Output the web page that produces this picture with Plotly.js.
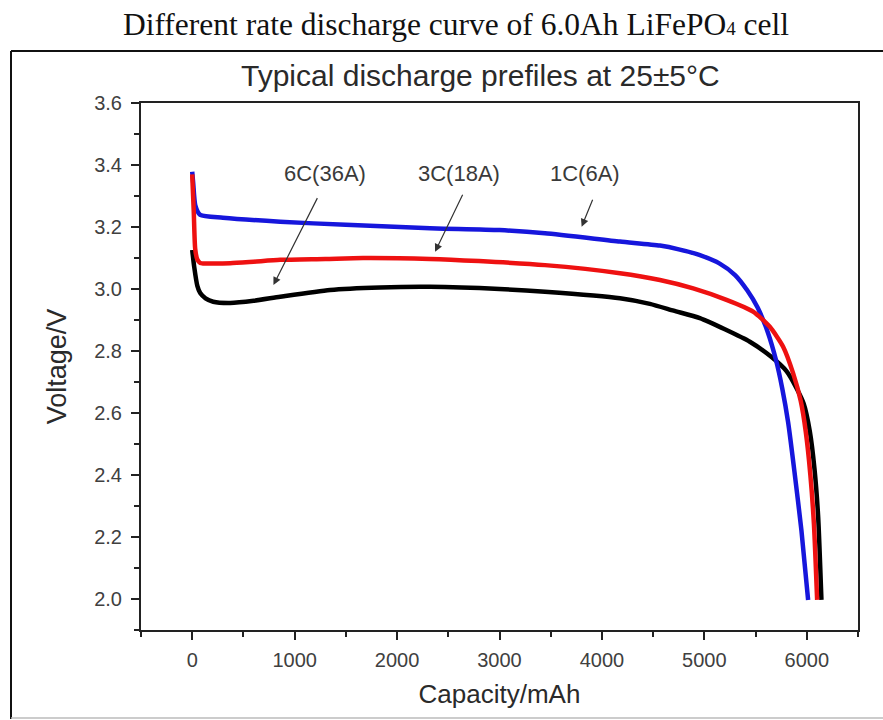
<!DOCTYPE html>
<html>
<head>
<meta charset="utf-8">
<script src="https://cdn.plot.ly/plotly-3.0.1.min.js"></script>
<style>
html,body{margin:0;padding:0;background:#fff;}
#chart{width:883px;height:720px;}
</style>
</head>
<body>
<div id="chart"></div>
<script>
// ---- data (capacity in mAh, voltage in V) ----
const seriesNames = ['6C(36A)', '1C(6A)', '3C(18A)'];

const cap6C = [0, 20, 50, 78, 130, 205, 371, 600, 859, 1346, 1834, 2322, 3000, 3444, 4176, 4468, 4700, 4956, 5200, 5444, 5650, 5802, 5900, 5970, 6030, 6075, 6111, 6143];
const volt6C = [3.126, 3.07, 3.01, 2.987, 2.97, 2.959, 2.955, 2.962, 2.975, 2.997, 3.005, 3.007, 3.0, 2.991, 2.97, 2.952, 2.93, 2.906, 2.87, 2.83, 2.782, 2.735, 2.68, 2.63, 2.54, 2.42, 2.265, 1.997];

const cap1C = [0, 10, 30, 78, 300, 859, 1500, 2322, 3000, 3444, 4176, 4566, 4750, 4950, 5150, 5300, 5420, 5520, 5620, 5700, 5760, 5818, 5880, 5948, 6013];
const volt1C = [3.378, 3.34, 3.27, 3.239, 3.23, 3.217, 3.207, 3.196, 3.19, 3.18, 3.153, 3.14, 3.128, 3.11, 3.082, 3.045, 2.995, 2.94, 2.86, 2.77, 2.68, 2.57, 2.41, 2.22, 1.997];

const cap3C = [0, 15, 29, 50, 78, 200, 371, 600, 859, 1300, 1668, 2322, 2800, 3444, 4176, 4566, 4891, 5216, 5476, 5639, 5769, 5867, 5940, 5990, 6035, 6070, 6101];
const volt3C = [3.37, 3.25, 3.13, 3.095, 3.084, 3.082, 3.083, 3.088, 3.094, 3.097, 3.10, 3.097, 3.09, 3.077, 3.051, 3.029, 3.002, 2.965, 2.927, 2.878, 2.814, 2.728, 2.64, 2.54, 2.40, 2.24, 1.997];

const xTickVals = [0, 1000, 2000, 3000, 4000, 5000, 6000];
const yTickVals = [2.0, 2.2, 2.4, 2.6, 2.8, 3.0, 3.2, 3.4, 3.6];

// label text, label anchor (capacity, voltage), arrow tail and tip
const labelText = ['6C(36A)', '3C(18A)', '1C(6A)'];
const labelCap = [1298, 2605, 3834];
const labelVolt = [3.371, 3.371, 3.371];
const arrowTailCap = [1229, 2647, 3915];
const arrowTailVolt = [3.298, 3.309, 3.293];
const arrowTipCap = [793, 2371, 3802];
const arrowTipVolt = [3.013, 3.12, 3.201];

const colors = ['#000000', '#1616dc', '#ee1111'];

const traces = [
  {x: cap6C, y: volt6C, name: seriesNames[0], mode: 'lines', line: {color: colors[0], width: 4.5, shape: 'spline', smoothing: 0.6}},
  {x: cap1C, y: volt1C, name: seriesNames[1], mode: 'lines', line: {color: colors[1], width: 4.5, shape: 'spline', smoothing: 0.6}},
  {x: cap3C, y: volt3C, name: seriesNames[2], mode: 'lines', line: {color: colors[2], width: 4.5, shape: 'spline', smoothing: 0.6}}
];

const W = 883, H = 720;
const mL = 141, mR = 25, mT = 103, mB = 90;
const pw = W - mL - mR, ph = H - mT - mB;
const px = v => (v - mL) / pw;          // pixel x -> paper
const py = v => (H - mB - v) / ph;      // pixel y -> paper

const sans = 'Liberation Sans, Arial, sans-serif';
const annotations = [];
for (let i = 0; i < labelText.length; i++) {
  annotations.push({
    x: labelCap[i], y: labelVolt[i], xref: 'x', yref: 'y',
    text: labelText[i], showarrow: false,
    font: {family: sans, size: 22, color: '#3a3a3a'},
    xanchor: 'center', yanchor: 'middle'
  });
  annotations.push({
    x: arrowTipCap[i], y: arrowTipVolt[i], xref: 'x', yref: 'y',
    ax: arrowTailCap[i], ay: arrowTailVolt[i], axref: 'x', ayref: 'y',
    text: '', showarrow: true, arrowhead: 2, arrowsize: 1.3, arrowwidth: 1.2, arrowcolor: '#333'
  });
}
annotations.push({
  x: px(480), y: py(76), xref: 'paper', yref: 'paper',
  text: 'Typical discharge prefiles at 25±5°C', showarrow: false,
  font: {family: sans, size: 30, color: '#2a2a2a'},
  xanchor: 'center', yanchor: 'middle'
});

const axisCommon = {
  showline: true, linecolor: '#222', linewidth: 2, mirror: true,
  ticks: 'outside', ticklen: 8, tickwidth: 2, tickcolor: '#222',
  showgrid: false, zeroline: false,
  tickfont: {family: sans, size: 20, color: '#404040'}
};

const frameLine = {color: '#111', width: 2};
const layout = {
  width: W, height: H,
  margin: {l: mL, r: mR, t: mT, b: mB},
  paper_bgcolor: '#ffffff', plot_bgcolor: '#ffffff',
  showlegend: false,
  title: {
    text: 'Different rate discharge curve of 6.0Ah LiFePO<span style="font-size:19px">4</span> cell',
    font: {family: 'Liberation Serif, Times New Roman, serif', size: 31.5, color: '#111'},
    x: 456 / W, xanchor: 'center', xref: 'container',
    y: 1 - 24 / H, yanchor: 'middle', yref: 'container'
  },
  xaxis: Object.assign({}, axisCommon, {
    range: [-500, 6500], tickvals: xTickVals, tickformat: 'd', ticklabelstandoff: 3,
    minor: {dtick: 500, tick0: 0, ticks: 'outside', ticklen: 5, tickwidth: 2, tickcolor: '#222', showgrid: false},
    title: {text: 'Capacity/mAh', standoff: 15, font: {family: sans, size: 26, color: '#2a2a2a'}}
  }),
  yaxis: Object.assign({}, axisCommon, {
    range: [1.9, 3.6], tickvals: yTickVals, tickformat: '.1f', ticklabelstandoff: 5,
    minor: {dtick: 0.1, tick0: 2.0, ticks: 'outside', ticklen: 5, tickwidth: 2, tickcolor: '#222', showgrid: false},
    title: {text: 'Voltage/V', standoff: 20, font: {family: sans, size: 27, color: '#2a2a2a'}}
  }),
  annotations: annotations,
  shapes: [
    {type: 'line', xref: 'paper', yref: 'paper', x0: px(11), x1: px(883), y0: py(51), y1: py(51), line: frameLine},
    {type: 'line', xref: 'paper', yref: 'paper', x0: px(11), x1: px(11), y0: py(51), y1: py(719), line: frameLine},
    {type: 'line', xref: 'paper', yref: 'paper', x0: px(11), x1: px(883), y0: py(718), y1: py(718), line: {color: '#bbb', width: 1.5}}
  ]
};

Plotly.newPlot('chart', traces, layout, {displayModeBar: false, staticPlot: true});
</script>
</body>
</html>
